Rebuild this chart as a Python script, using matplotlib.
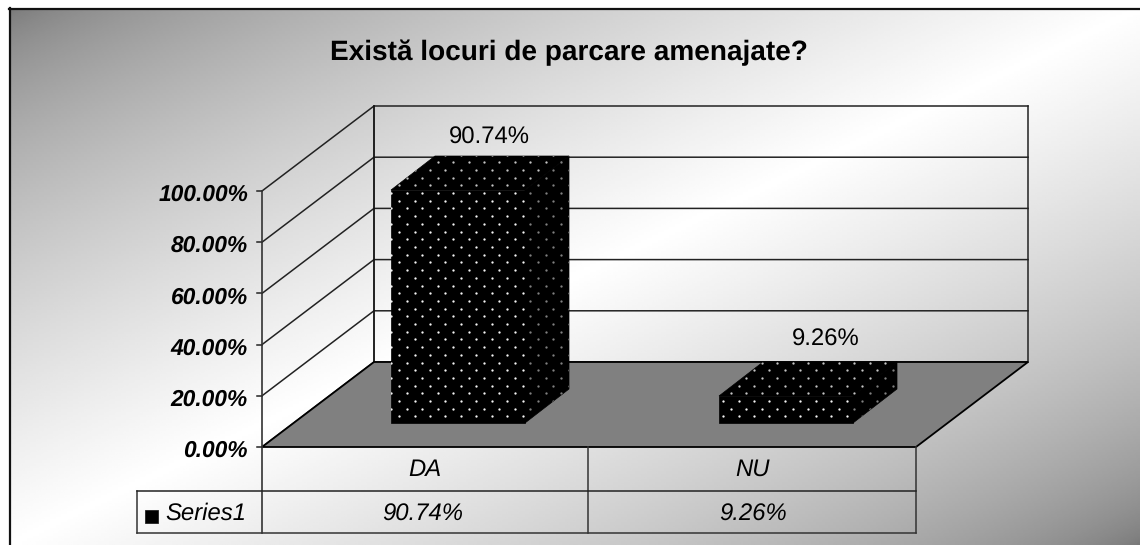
import numpy as np
import matplotlib
matplotlib.use("Agg")
import matplotlib.pyplot as plt
from matplotlib.patches import Polygon

plt.rcParams['font.family'] = ['Liberation Sans', 'DejaVu Sans']
plt.rcParams['text.hinting'] = 'none'

title = "Există locuri de parcare amenajate?"
categories = ["DA", "NU"]
values = [90.74, 9.26]
value_labels = ["90.74%", "9.26%"]
series_name = "Series1"
axis_ticks = [0, 20, 40, 60, 80, 100]
axis_labels = ["0.00%", "20.00%", "40.00%", "60.00%", "80.00%", "100.00%"]

W, H = 1140, 545
DX, DY = 112, -85          # depth of the floor
BAR_DX, BAR_DY = 44, -34   # depth of one bar
X0, X1, Y0 = 262, 916, 447
UNIT = 2.56


def front_y(v):
    return Y0 - UNIT * v


def bar_top(v):
    return 423 - 3.6 - 2.528 * v


def dots(ax, poly, colour):
    # pattern fill, same dot grid for every face
    xs = np.arange(437.7 % 15.43, W, 15.43)
    pts = []
    for i, y in enumerate(np.arange(162.3 - 7.7 * 21, H, 7.7)):
        shift = 7.7 if i % 2 == 0 else 0
        pts += [(x - shift, y) for x in xs]
    pts = np.array(pts)
    sc = ax.scatter(pts[:, 0], pts[:, 1], s=2.8, c=colour, linewidths=0, zorder=6)
    sc.set_clip_path(poly)


def draw_bar(ax, left, width, bottom, top):
    right = left + width
    front = Polygon([(left, bottom), (right, bottom), (right, top), (left, top)],
                    fc='black', ec='black', lw=0.5, zorder=5)
    lid = Polygon([(left, top), (right, top), (right + BAR_DX, top + BAR_DY), (left + BAR_DX, top + BAR_DY)],
                  fc='black', ec='black', lw=0.5, zorder=5)
    side = Polygon([(right, bottom), (right, top), (right + BAR_DX, top + BAR_DY), (right + BAR_DX, bottom + BAR_DY)],
                   fc='black', ec='black', lw=0.5, zorder=5)
    for face, colour in [(front, '#f4f4f4'), (lid, '#c4c4c4'), (side, '#808080')]:
        ax.add_patch(face)
        dots(ax, face, colour)


fig = plt.figure(figsize=(W / 100, H / 100), dpi=100)
ax = fig.add_axes([0, 0, 1, 1])
ax.set_xlim(0, W)
ax.set_ylim(H, 0)
ax.axis('off')

# background gradient, dark corners and white diagonal
xx, yy = np.meshgrid(np.linspace(0, 1, 400), np.linspace(0, 1, 200))
t = (xx + yy) / 2
shade = 0.47 + 0.53 * (1 - np.abs(2 * t - 1)) ** 0.65
ax.imshow(shade, cmap='gray', vmin=0, vmax=1, extent=[9, W, H, 8], aspect='auto', zorder=0)
ax.set_xlim(0, W)
ax.set_ylim(H, 0)
ax.plot([9, W], [8.5, 8.5], color='#111111', lw=1.6, zorder=1)
ax.plot([9.5, 9.5], [8, H], color='#111111', lw=1.6, zorder=1)

# floor
ax.add_patch(Polygon([(X0, Y0), (X1, Y0), (X1 + DX, Y0 + DY), (X0 + DX, Y0 + DY)],
                     fc='#808080', ec='black', lw=1.3, zorder=2))

# walls and gridlines
for v, lab in zip(axis_ticks, axis_labels):
    y = front_y(v)
    ax.plot([X0, X0 + DX, X1 + DX], [y, y + DY, y + DY], color='#222222', lw=1.1, zorder=1.5)
    ax.plot([X0 - 5, X0], [y, y], color='#222222', lw=1.1, zorder=3)
    ax.text(248, y + 4, lab, ha='right', va='center', fontsize=16.4, fontweight='bold', fontstyle='italic', zorder=7)
ax.plot([X0 + DX] * 2, [front_y(100) + DY, Y0 + DY], color='#111111', lw=1.3, zorder=1.5)
ax.plot([X1 + DX] * 2, [front_y(100) + DY, Y0 + DY], color='#222222', lw=1.1, zorder=1.5)

# bars and their labels
bar_lefts = [391, 719]
label_x = [489, 826]
label_y = [138, 340]
for left, v, lx, ly, lab in zip(bar_lefts, values, label_x, label_y, value_labels):
    draw_bar(ax, left, 134, 423, bar_top(v))
    ax.text(lx, ly, lab, ha='center', va='center', fontsize=17.2, zorder=7)

# data table
ax.plot([X0, X0], [front_y(100), 533], color='#333333', lw=1.2, zorder=3)
for x in [588, X1]:
    ax.plot([x, x], [Y0, 533], color='#333333', lw=1.1, zorder=3)
ax.plot([137, 137], [491, 533], color='#333333', lw=1.1, zorder=3)
ax.plot([137, X1], [491, 491], color='#222222', lw=1.1, zorder=3)
ax.plot([137, X1], [533, 533], color='#333333', lw=1.1, zorder=3)
cat_x = [425, 753]
val_x = [423, 753]
for cx, vx, cat, lab in zip(cat_x, val_x, categories, value_labels):
    ax.text(cx, 470, cat, ha='center', va='center', fontsize=17.2, fontstyle='italic', zorder=7)
    ax.text(vx, 515, lab, ha='center', va='center', fontsize=17.2, fontstyle='italic', zorder=7)
ax.add_patch(Polygon([(145, 510), (158, 510), (158, 523), (145, 523)], fc='black', ec='#222222', lw=0.6, zorder=7))
ax.text(165, 514, series_name, ha='left', va='center', fontsize=17.2, fontstyle='italic', zorder=7)

ax.text(569, 53, title, ha='center', va='center', fontsize=20.2, fontweight='bold', zorder=7)

fig.savefig('out.png', dpi=100)
